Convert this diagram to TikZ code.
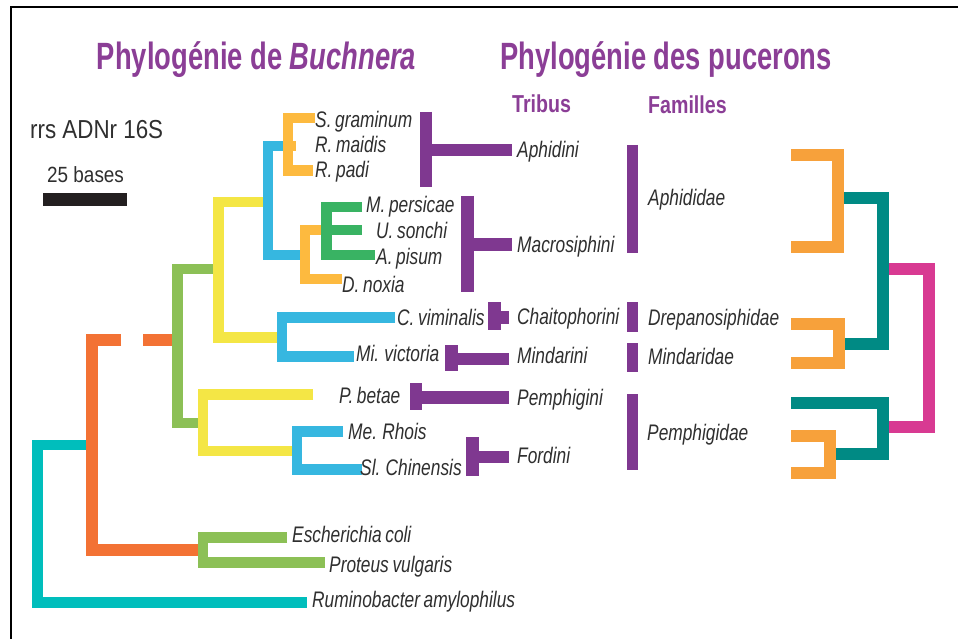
\documentclass[tikz,border=0pt]{standalone}
\usepackage{fontspec}
\setmainfont{Liberation Sans}
\newfontfamily\titlefont{Liberation Sans}[FakeStretch=0.72]
\newfontfamily\headfont{Liberation Sans}[FakeStretch=0.8]
\newfontfamily\labfont{Liberation Sans}[FakeStretch=0.77,WordSpace=0.75]
\newfontfamily\regfont{Liberation Sans}[FakeStretch=0.86]
\definecolor{ttlpurple}{HTML}{8B3E96}
\definecolor{barpurple}{HTML}{7F3890}
\definecolor{labgray}{HTML}{2F2F2F}
\definecolor{cLtOrange}{HTML}{FDBA3F}
\definecolor{cBlue}{HTML}{36B7E0}
\definecolor{cGreen}{HTML}{39B363}
\definecolor{cYellow}{HTML}{F4E645}
\definecolor{cLtGreen}{HTML}{8CC056}
\definecolor{cRedOrange}{HTML}{F37234}
\definecolor{cCyan}{HTML}{00BEBC}
\definecolor{cOrange}{HTML}{F7A13B}
\definecolor{cTeal}{HTML}{008A84}
\definecolor{cPink}{HTML}{D83A92}
\definecolor{scalebar}{HTML}{231F20}
\begin{document}
\begin{tikzpicture}[x=1pt,y=-1pt,
  branch/.style={line width=10.5pt},
  rbranch/.style={line width=12pt},
  tribar/.style={line width=12.5pt, barpurple},
  lab/.style={font=\labfont\itshape\fontsize{22.5}{25}\selectfont, text=labgray,
    inner sep=0pt, anchor=west, text height=16pt, text depth=0pt},
  ttl/.style={font=\titlefont\bfseries\fontsize{38}{42}\selectfont, text=ttlpurple,
    inner sep=0pt, anchor=base},
  hdr/.style={font=\headfont\bfseries\fontsize{24.5}{28}\selectfont, text=ttlpurple,
    inner sep=0pt, anchor=west, text height=17.5pt, text depth=0pt},
  reglab/.style={font=\regfont, text=labgray, inner sep=0pt, anchor=west, text depth=0pt}]
\useasboundingbox (0,0) rectangle (958,639);
\fill[white] (0,0) rectangle (958,639);
% frame
\draw[line width=2pt] (11,639) -- (11,6.7) -- (958,6.7);

% titles
\node[ttl] (t1) at (256.5,70) {Phylog\'enie de {\itshape Buchnera}};
\node[ttl] (t2) at (666,70) {Phylog\'enie des pucerons};
\node[hdr] (tribus) at (512,103.5) {Tribus};
\node[hdr] (familles) at (648,104.5) {Familles};

% scale
\node[reglab, font=\regfont\fontsize{26}{28}\selectfont, text height=18pt] (rrs) at (30,130) {rrs ADNr 16S};
\node[reglab, font=\regfont\fontsize{22}{24}\selectfont, text height=15.7pt] (bases) at (47,174.5) {25 bases};
\fill[scalebar] (43,193.3) rectangle (127.3,206);

% ---- left tree (Buchnera) ----
\draw[branch, cCyan] (86,445) -- (37.5,445) -- (37.5,602.5) -- (307,602.5);
\draw[branch, line width=11.5pt, cRedOrange] (121,340) -- (92,340) -- (92,550) -- (198,550);
\draw[branch, line width=11.5pt, cRedOrange] (143,340) -- (172,340);
\draw[branch, cLtGreen] (287,537.5) -- (203,537.5) -- (203,562.5) -- (325,562.5);
\draw[branch, cLtGreen] (213,269) -- (177.5,269) -- (177.5,423) -- (198,423);
\draw[branch, cYellow] (263,202) -- (218.5,202) -- (218.5,337.5) -- (277,337.5);
\draw[branch, cYellow] (313,394.5) -- (203,394.5) -- (203,451) -- (292,451);
\draw[branch, cBlue] (283,146) -- (268,146) -- (268,255) -- (300,255);
\draw[branch, cBlue] (395,317.5) -- (282,317.5) -- (282,356.5) -- (354,356.5);
\draw[branch, cBlue] (343,431.5) -- (297,431.5) -- (297,469.5) -- (362,469.5);
\draw[branch, cLtOrange] (315,118) -- (288,118) -- (288,170.5) -- (313,170.5);
\draw[branch, cLtOrange] (288,146) -- (296,146);
\draw[branch, cLtOrange] (321,230) -- (305,230) -- (305,279) -- (342,279);
\draw[branch, cGreen] (362,207) -- (326.5,207) -- (326.5,255) -- (375,255);
\draw[branch, cGreen] (326.5,230) -- (362,230);

% species labels
\node[lab] (sgr) at (315,119.3) {S. graminum};
\node[lab] (rma) at (315,145) {R. maidis};
\node[lab] (rpa) at (315,170) {R. padi};
\node[lab] (mpe) at (366,204.5) {M. persicae};
\node[lab] (uso) at (376,230) {U. sonchi};
\node[lab] (api) at (376,256) {A. pisum};
\node[lab] (dno) at (342,284) {D. noxia};
\node[lab] (cvi) at (397,317) {C. viminalis};
\node[lab] (mvi) at (356,353) {Mi. victoria};
\node[lab] (pbe) at (339,395) {P. betae};
\node[lab] (mrh) at (348,431) {Me. Rhois};
\node[lab] (sch) at (360,467.5) {Sl. Chinensis};
\node[lab] (eco) at (292,534) {Escherichia coli};
\node[lab] (pvu) at (329,564) {Proteus vulgaris};
\node[lab] (ram) at (312,599.5) {Ruminobacter amylophilus};

% ---- tribus brackets ----
\draw[tribar] (426,112) -- (426,187);
\draw[tribar] (426,150) -- (512,150);
\draw[tribar] (467.5,196) -- (467.5,292);
\draw[tribar] (467.5,244.5) -- (512,244.5);
\draw[tribar] (494.5,302) -- (494.5,330);
\draw[tribar] (494.5,317.5) -- (509,317.5);
\draw[tribar] (451.5,345) -- (451.5,371);
\draw[tribar] (451.5,359) -- (509,359);
\draw[tribar] (416,383) -- (416,410);
\draw[tribar] (416,397.5) -- (509,397.5);
\draw[tribar] (472.5,437) -- (472.5,476);
\draw[tribar] (472.5,457) -- (509,457);

\node[lab] (aphidini) at (517,150) {Aphidini};
\node[lab] (macro) at (517,244.7) {Macrosiphini};
\node[lab] (chaito) at (517,316.5) {Chaitophorini};
\node[lab] (mindarini) at (517,355) {Mindarini};
\node[lab] (pemphigini) at (517,397) {Pemphigini};
\node[lab] (fordini) at (517,455.5) {Fordini};

% ---- familles bars ----
\draw[line width=11pt, barpurple] (632.5,145) -- (632.5,253);
\draw[line width=11pt, barpurple] (632.5,302) -- (632.5,332);
\draw[line width=11pt, barpurple] (632.5,343) -- (632.5,372);
\draw[line width=11pt, barpurple] (632.5,394) -- (632.5,470);

\node[lab] (aphididae) at (648,197) {Aphididae};
\node[lab] (drepano) at (648,317) {Drepanosiphidae};
\node[lab] (mindaridae) at (648,356) {Mindaridae};
\node[lab] (pemphigidae) at (647,432) {Pemphigidae};

% ---- right tree ----
\draw[rbranch, cPink] (889,269) -- (929,269) -- (929,427) -- (889,427);
\draw[rbranch, cTeal] (843,198) -- (883,198) -- (883,343.5) -- (845,343.5);
\draw[rbranch, cTeal] (791,402.5) -- (883,402.5) -- (883,454) -- (835,454);
\draw[rbranch, cOrange] (791,155) -- (837.5,155) -- (837.5,246.5) -- (791,246.5);
\draw[rbranch, cOrange] (791,324) -- (839,324) -- (839,363) -- (791,363);
\draw[rbranch, cOrange] (791,436) -- (829.5,436) -- (829.5,473) -- (791,473);
\end{tikzpicture}
\end{document}
